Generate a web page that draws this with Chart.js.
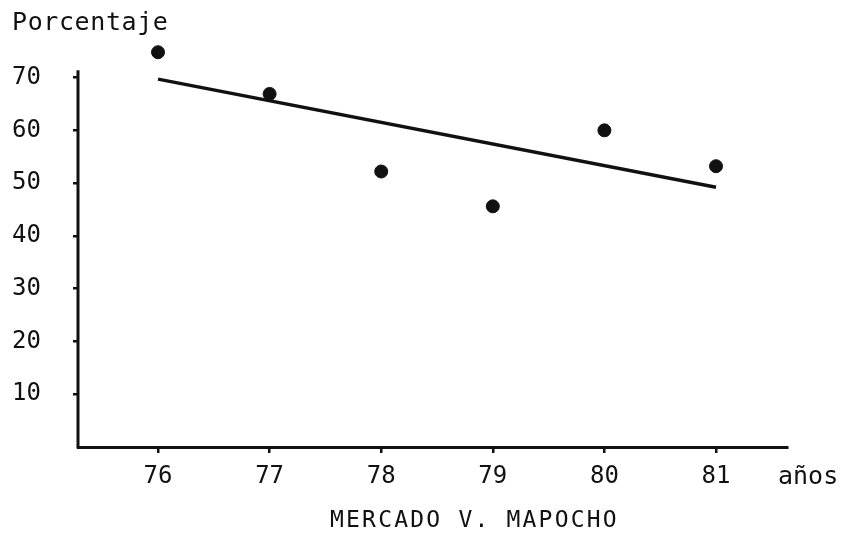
<!DOCTYPE html>
<html>
<head>
<meta charset="utf-8">
<script src="https://cdn.jsdelivr.net/npm/chart.js@4"></script>
<style>
  html, body { margin: 0; padding: 0; background: #fff; }
  #wrap { width: 844px; height: 533px; }
</style>
</head>
<body>
<div id="wrap"><canvas id="myChart" width="844" height="533"></canvas></div>
<script>
// datos
const years = [76, 77, 78, 79, 80, 81];
const percent = [74.8, 66.9, 52.2, 45.6, 60.0, 53.2];
const trendYears = [76, 81];
const trendValues = [69.7, 49.2];
const yTicks = [10, 20, 30, 40, 50, 60, 70];
const yAxisTop = 71.4;   // hasta donde llega la linea del eje

const FONT = '"DejaVu Sans Mono", "Liberation Mono", monospace';

const points = years.map((x, i) => ({x: x, y: percent[i]}));
const trend = trendYears.map((x, i) => ({x: x, y: trendValues[i]}));

// eje vertical (corto) y textos sueltos
const labelsPlugin = {
  id: 'labels',
  afterDraw(chart) {
    const c = chart.ctx;
    const xs = chart.scales.x, ys = chart.scales.y;
    c.save();
    c.strokeStyle = '#111';
    c.lineWidth = 3;
    c.beginPath();
    c.moveTo(xs.left, ys.getPixelForValue(0) + 1.5);
    c.lineTo(xs.left, ys.getPixelForValue(yAxisTop));
    c.stroke();

    c.fillStyle = '#111';
    c.font = '25px ' + FONT;
    c.textBaseline = 'alphabetic';
    c.textAlign = 'left';
    c.letterSpacing = '0.6px';
    c.fillText('Porcentaje', 12, 30);
    c.letterSpacing = '0px';
    c.fillText('años', 778, 484);
    c.font = '23px ' + FONT;
    c.letterSpacing = '2.2px';
    c.fillText('MERCADO V. MAPOCHO', 330, 527);
    c.restore();
  }
};

const ctx = document.getElementById('myChart').getContext('2d');
new Chart(ctx, {
  type: 'scatter',
  data: {
    datasets: [{
      label: 'Porcentaje',
      data: points,
      backgroundColor: '#111',
      borderColor: '#111',
      pointRadius: 6.5,
      pointHoverRadius: 6.5,
      clip: false
    }, {
      type: 'line',
      label: 'Tendencia',
      data: trend,
      borderColor: '#111',
      borderWidth: 3.5,
      pointRadius: 0,
      fill: false
    }]
  },
  options: {
    responsive: false,
    animation: false,
    layout: { padding: { left: 12, top: 48, right: 57, bottom: 0 } },
    plugins: {
      legend: { display: false },
      tooltip: { enabled: false }
    },
    scales: {
      x: {
        type: 'linear',
        min: 75.283,
        max: 81.636,
        afterBuildTicks: s => { s.ticks = years.map(v => ({value: v})); },
        afterFit: s => { s.height = 86; },
        border: { display: true, color: '#111', width: 3 },
        grid: { drawOnChartArea: false, color: '#111', tickLength: 6, lineWidth: 2.5 },
        ticks: {
          color: '#111',
          padding: 9,
          font: { family: FONT, size: 24 },
          callback: v => String(v)
        }
      },
      y: {
        type: 'linear',
        min: 0,
        max: 75.6,
        afterBuildTicks: s => { s.ticks = yTicks.map(v => ({value: v})); },
        afterFit: s => { s.width = 66; },
        border: { display: false },
        grid: { drawOnChartArea: false, color: '#111', tickLength: 5, lineWidth: 2.5 },
        ticks: {
          color: '#111',
          crossAlign: 'far',
          padding: 4,
          font: { family: FONT, size: 24 },
          callback: v => String(v)
        }
      }
    }
  },
  plugins: [labelsPlugin]
});
</script>
</body>
</html>
